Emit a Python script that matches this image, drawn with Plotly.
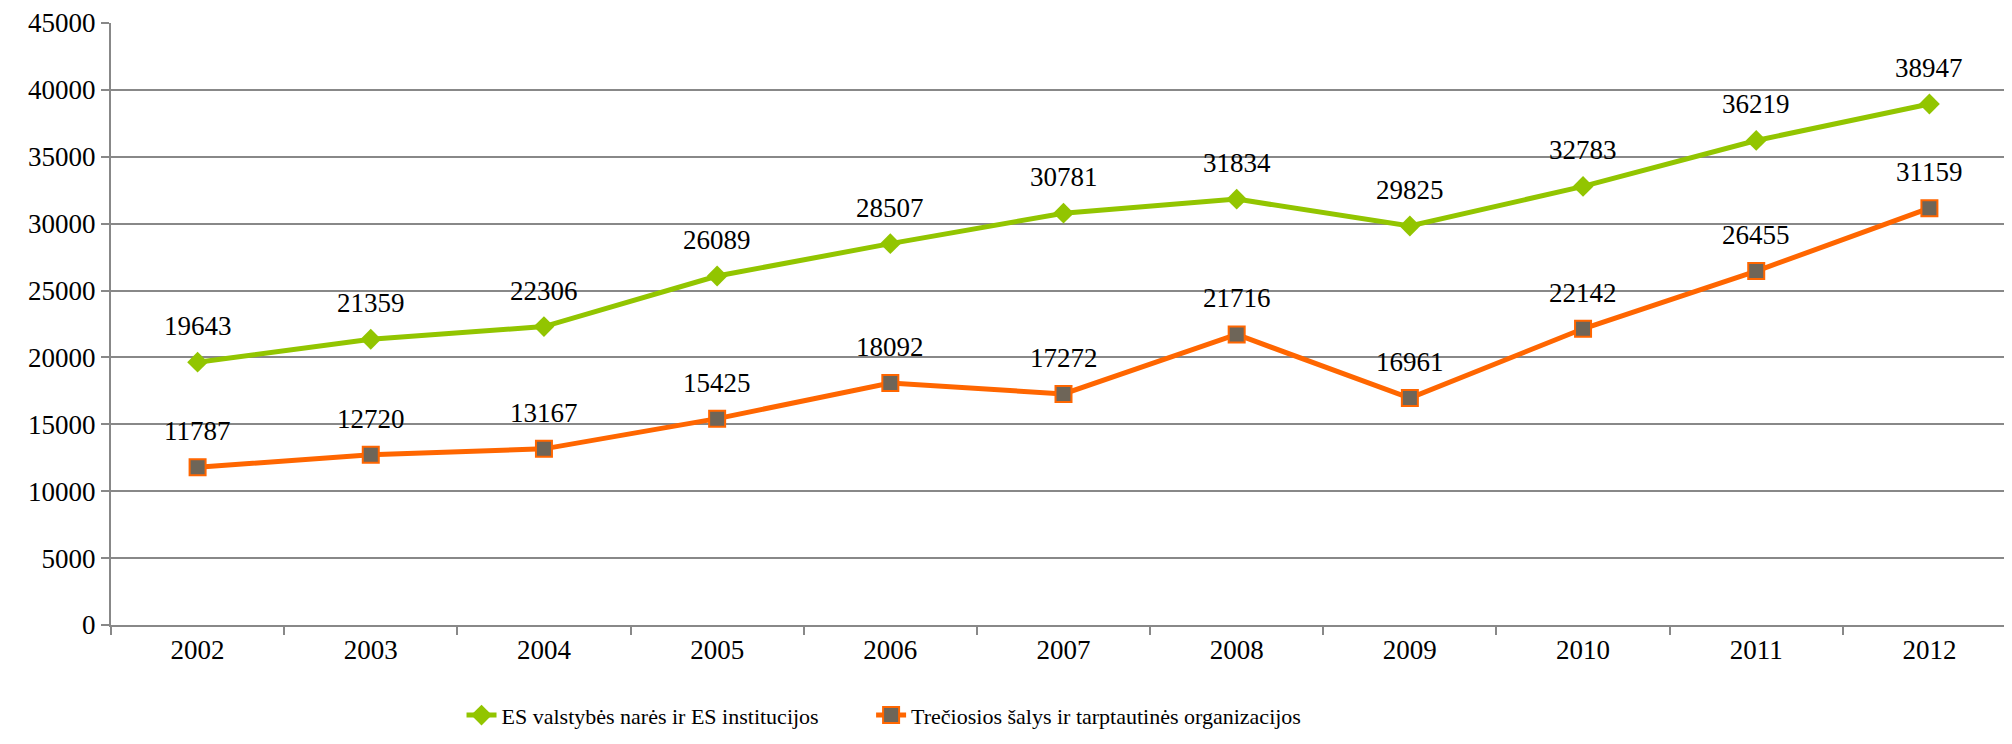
import plotly.graph_objects as go

years = ["2002", "2003", "2004", "2005", "2006", "2007", "2008", "2009", "2010", "2011", "2012"]
es_members = [19643, 21359, 22306, 26089, 28507, 30781, 31834, 29825, 32783, 36219, 38947]
third_countries = [11787, 12720, 13167, 15425, 18092, 17272, 21716, 16961, 22142, 26455, 31159]
y_ticks = [0, 5000, 10000, 15000, 20000, 25000, 30000, 35000, 40000, 45000]

font_main = "Liberation Serif, DejaVu Serif, serif"
grid_col = "#888888"

fig = go.Figure()
fig.add_trace(go.Scatter(
    x=years, y=es_members, mode="lines+markers",
    name="ES valstybės narės ir ES institucijos",
    line=dict(color="#92C500", width=5),
    marker=dict(symbol="diamond", size=16, color="#92C500"),
    legend="legend",
))
fig.add_trace(go.Scatter(
    x=years, y=third_countries, mode="lines+markers",
    name="Trečiosios šalys ir tarptautinės organizacijos",
    line=dict(color="#FF6600", width=5),
    marker=dict(symbol="square", size=16, color="#6E6558",
                line=dict(color="#FF6600", width=2)),
    legend="legend2",
))

# value labels above each point (category index used for x)
for series in (es_members, third_countries):
    for i, v in enumerate(series):
        fig.add_annotation(x=i, y=v, text=str(v), showarrow=False,
                           yshift=36, font=dict(size=27, color="black", family=font_main))

leg_common = dict(orientation="h", y=-0.15, xanchor="left", yanchor="middle",
                  font=dict(size=22, family=font_main), bgcolor="rgba(0,0,0,0)")

# page body adds an 8px margin, so the figure is a bit smaller than the window
fig.update_layout(
    width=2008, height=736,
    margin=dict(l=103, r=0, t=15, b=119),
    plot_bgcolor="white", paper_bgcolor="white",
    font=dict(family=font_main, size=27, color="black"),
    showlegend=True,
    legend=dict(x=0.184, **leg_common),
    legend2=dict(x=0.399, **leg_common),
)
fig.update_xaxes(
    type="category", range=[-0.5, 10.5], automargin=False,
    showline=True, linecolor=grid_col, linewidth=2,
    ticks="outside", tickson="boundaries", ticklen=8, tickcolor=grid_col, tickwidth=2,
    showgrid=False, tickfont=dict(size=27),
)
fig.update_yaxes(
    range=[0, 45000], tickvals=y_ticks, ticktext=[str(t) for t in y_ticks],
    automargin=False,
    showgrid=True, gridcolor=grid_col, gridwidth=2,
    showline=True, linecolor=grid_col, linewidth=2,
    ticks="outside", ticklen=8, tickcolor=grid_col, tickwidth=2,
    zeroline=False, tickfont=dict(size=27),
)

fig.write_html("out.html")
